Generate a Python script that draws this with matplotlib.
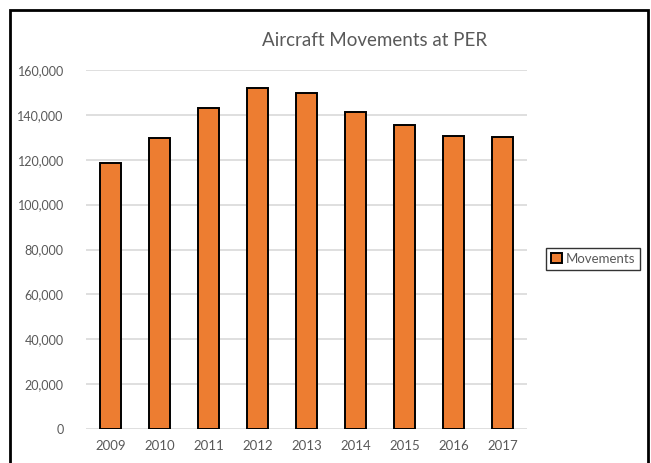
import matplotlib.pyplot as plt
from matplotlib.patches import Rectangle
from matplotlib.ticker import FuncFormatter

years = ["2009", "2010", "2011", "2012", "2013", "2014", "2015", "2016", "2017"]
movements = [118500, 129700, 142900, 151800, 149900, 141400, 135500, 130600, 130100]

plt.rcParams["font.family"] = ["Lato", "DejaVu Sans"]
grey = "#595959"

fig = plt.figure(figsize=(6.51, 4.63), dpi=100)
ax = fig.add_axes([86 / 651, 1 - 429 / 463, (527 - 86) / 651, (429 - 70) / 463])

ax.bar(years, movements, width=0.42, color="#ED7D31", edgecolor="black",
       linewidth=1.4, label="Movements", zorder=3)

ax.set_ylim(0, 160000)
ax.set_xlim(-0.5, len(years) - 0.5)
ax.set_yticks(range(0, 160001, 20000))
ax.yaxis.set_major_formatter(FuncFormatter(lambda v, p: f"{int(v):,}"))
ax.grid(axis="y", color="#d9d9d9", linewidth=1.2, zorder=0)
for s in ax.spines.values():
    s.set_visible(False)
ax.tick_params(axis="both", length=0, colors=grey, labelsize=9)
ax.tick_params(axis="y", pad=16)
ax.tick_params(axis="x", pad=8, labelsize=9.5)

fig.text(375 / 651, 1 - 40 / 463, "Aircraft Movements at PER", ha="center",
         va="center", fontsize=13.5, color=grey)

leg = fig.legend(loc="center", bbox_to_anchor=(593 / 651, 1 - 259 / 463),
                 frameon=True, fancybox=False, fontsize=9.5, handlelength=0.8,
                 handleheight=0.8, handletextpad=0.3, borderpad=0.35)
leg.get_frame().set_edgecolor("black")
leg.get_frame().set_linewidth(1.0)
for t in leg.get_texts():
    t.set_color(grey)

fig.add_artist(Rectangle((10 / 651, -0.05), (648 - 10) / 651, 1.05 - 10 / 463,
                         transform=fig.transFigure, fill=False,
                         edgecolor="black", linewidth=2))

fig.savefig("out.png", dpi=100)
